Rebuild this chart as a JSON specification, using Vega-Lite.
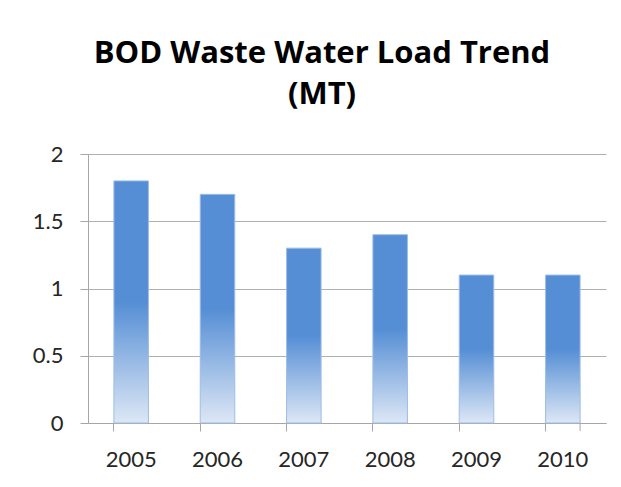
{
  "$schema": "https://vega.github.io/schema/vega-lite/v6.json",
  "width": 518,
  "height": 269,
  "autosize": {"type": "none"},
  "padding": {"left": 88, "top": 154, "right": 15, "bottom": 64},
  "background": "white",
  "title": {
    "text": ["BOD Waste Water Load Trend", "(MT)"],
    "font": "Open Sans",
    "fontSize": 31,
    "fontWeight": "bold",
    "color": "#000000",
    "anchor": "middle",
    "dx": -25,
    "offset": 32,
    "lineHeight": 41
  },
  "data": {
    "values": [
      {"year": "2005", "load": 1.8},
      {"year": "2006", "load": 1.7},
      {"year": "2007", "load": 1.3},
      {"year": "2008", "load": 1.4},
      {"year": "2009", "load": 1.1},
      {"year": "2010", "load": 1.1}
    ]
  },
  "layer": [
    {
      "mark": {
        "type": "bar",
        "stroke": "#9dbde6",
        "strokeWidth": 1,
        "color": {
          "gradient": "linear",
          "x1": 0, "y1": 0, "x2": 0, "y2": 1,
          "stops": [
            {"offset": 0, "color": "#558ed5"},
            {"offset": 0.5, "color": "#558ed5"},
            {"offset": 1, "color": "#dde7f5"}
          ]
        }
      },
      "encoding": {
        "x": {
          "field": "year",
          "type": "nominal",
          "scale": {"paddingInner": 0.6, "paddingOuter": 0.3},
          "axis": {
            "title": null,
            "labelAngle": 0,
            "bandPosition": 0,
            "tickSize": 8,
            "labelPadding": 18,
            "labelFont": "Lato",
            "labelFontSize": 22,
            "labelColor": "#262626",
            "domainColor": "#a6a6a6",
            "tickColor": "#a6a6a6",
            "labelBound": false
          }
        },
        "y": {
          "field": "load",
          "type": "quantitative",
          "scale": {"domain": [0, 2], "nice": false},
          "axis": {
            "title": null,
            "values": [0, 0.5, 1, 1.5, 2],
            "format": "~g",
            "tickSize": 8,
            "labelPadding": 17,
            "labelFont": "Lato",
            "labelFontSize": 22,
            "labelColor": "#262626",
            "domainColor": "#a6a6a6",
            "tickColor": "#a6a6a6",
            "gridColor": "#b0b0b0",
            "gridOpacity": 1
          }
        }
      }
    },
    {
      "transform": [{"filter": "datum.year == '2010'"}],
      "mark": {"type": "rule", "color": "#a6a6a6", "clip": false},
      "encoding": {
        "x": {"field": "year", "type": "nominal", "bandPosition": 1},
        "y": {"datum": 0},
        "y2": {"datum": -0.06}
      }
    }
  ],
  "config": {
    "view": {"stroke": null}
  }
}
